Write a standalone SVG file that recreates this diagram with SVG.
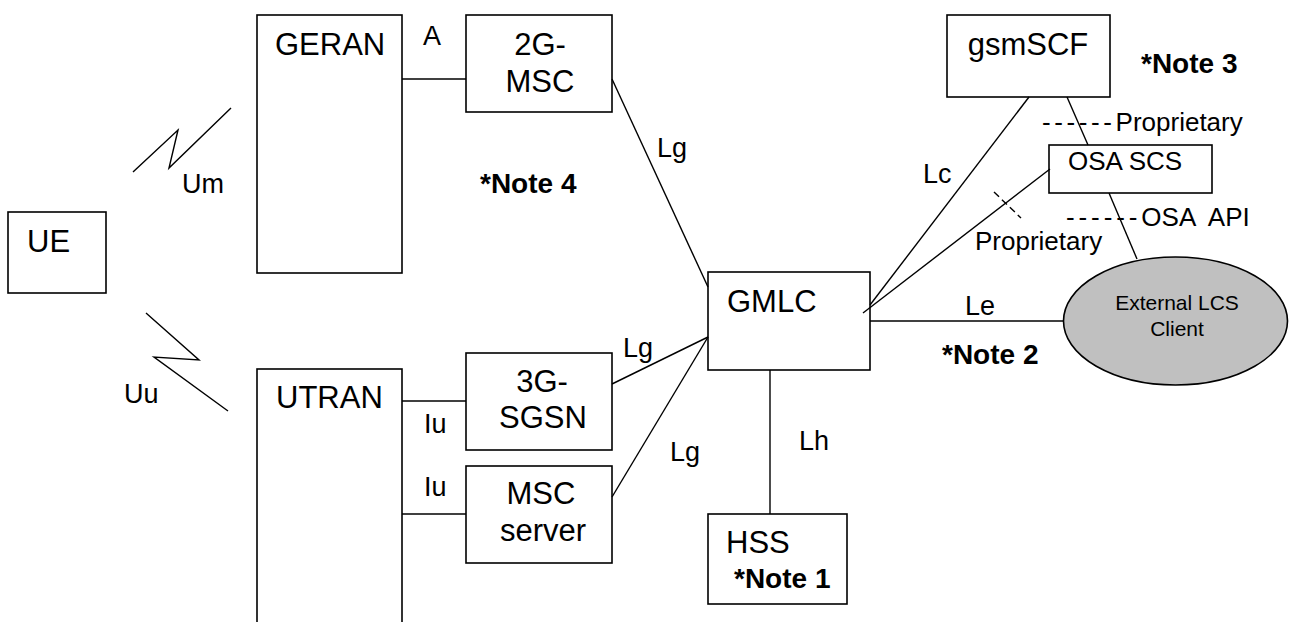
<svg xmlns="http://www.w3.org/2000/svg" width="1289" height="622" viewBox="0 0 1289 622">
<style>
text{font-family:"Liberation Sans",Arial,sans-serif;fill:#000}
.box{fill:#fff;stroke:#000;stroke-width:1.6}
.ln{fill:none;stroke:#000;stroke-width:1.4}
.dash{fill:none;stroke:#000;stroke-width:1.4;stroke-dasharray:7 4}
.nl{font-size:31px}
.il{font-size:27px}
.sl{font-size:26px}
.note{font-size:28px;font-weight:bold}
.ext{font-size:21px}
</style>
<rect x="0" y="0" width="1289" height="622" fill="#fff"/>
<g id="UE"><rect class="box" x="8" y="212" width="98" height="81"/><text class="nl" x="27" y="252">UE</text></g>
<g id="GERAN"><rect class="box" x="257" y="15" width="145" height="258"/><text class="nl" x="275" y="55">GERAN</text></g>
<g id="UTRAN"><rect class="box" x="257" y="369" width="145" height="270"/><text class="nl" x="276" y="408">UTRAN</text></g>
<g id="MSC2G"><rect class="box" x="466" y="15" width="146" height="97"/><text class="nl" text-anchor="middle" x="540" y="55">2G-</text><text class="nl" text-anchor="middle" x="540" y="92">MSC</text></g>
<g id="SGSN3G"><rect class="box" x="466" y="353" width="146" height="97"/><text class="nl" text-anchor="middle" x="542" y="392">3G-</text><text class="nl" text-anchor="middle" x="543" y="428">SGSN</text></g>
<g id="MSCserver"><rect class="box" x="466" y="466" width="146" height="97"/><text class="nl" text-anchor="middle" x="541" y="504">MSC</text><text class="nl" text-anchor="middle" x="543" y="541">server</text></g>
<g id="GMLC"><rect class="box" x="708" y="272" width="162" height="98"/><text class="nl" x="727" y="312">GMLC</text></g>
<g id="HSS"><rect class="box" x="708" y="514" width="139" height="90"/><text class="nl" x="726" y="553">HSS</text><text class="note" x="734" y="588">*Note 1</text></g>
<g id="gsmSCF"><rect class="box" x="947" y="15" width="163" height="82"/><text class="nl" text-anchor="middle" x="1028" y="55">gsmSCF</text></g>
<g id="OSASCS"><rect class="box" x="1049" y="145" width="163" height="48"/><text class="sl" x="1068" y="170">OSA SCS</text></g>
<g id="ExternalLCSClient"><ellipse cx="1175.5" cy="321" rx="112" ry="64" fill="#c0c0c0" stroke="#000" stroke-width="1.6"/><text class="ext" text-anchor="middle" x="1177" y="310">External LCS</text><text class="ext" text-anchor="middle" x="1177" y="336">Client</text></g>
<g id="connectors">
<polyline class="ln" points="133,172 178,130 169,168 231,108"/>
<polyline class="ln" points="146,313 199,360 154,357 228,411"/>
<line class="ln" x1="402" y1="79" x2="466" y2="79"/>
<line class="ln" x1="612" y1="79" x2="708" y2="287"/>
<line class="ln" x1="402" y1="401" x2="466" y2="401"/>
<line class="ln" x1="402" y1="514" x2="466" y2="514"/>
<line class="ln" x1="612" y1="384" x2="708" y2="337"/>
<line class="ln" x1="612" y1="497" x2="708" y2="337"/>
<line class="ln" x1="770" y1="370" x2="770" y2="514"/>
<line class="ln" x1="870" y1="321" x2="1063.5" y2="321"/>
<line class="ln" x1="1029" y1="97" x2="870" y2="305"/>
<line class="ln" x1="1050" y1="169" x2="863" y2="313"/>
<line class="ln" x1="1067" y1="97" x2="1088" y2="145"/>
<line class="ln" x1="1109" y1="193" x2="1137" y2="259"/>
<line class="dash" x1="994" y1="192" x2="1021" y2="218"/>
</g>
<g id="labels">
<text class="il" x="423" y="45">A</text>
<text class="il" x="182" y="193">Um</text>
<text class="il" x="124" y="403">Uu</text>
<text class="il" x="657" y="157">Lg</text>
<text class="il" x="623" y="357">Lg</text>
<text class="il" x="670" y="461">Lg</text>
<text class="il" x="424" y="433">Iu</text>
<text class="il" x="424" y="496">Iu</text>
<text class="il" x="799" y="450">Lh</text>
<text class="il" x="923" y="183">Lc</text>
<text class="il" x="965" y="315">Le</text>
<text class="sl" x="1042" y="131"><tspan letter-spacing="3.6">------</tspan>Proprietary</text>
<text class="sl" x="1066" y="226" xml:space="preserve"><tspan letter-spacing="3.9">------</tspan>OSA  API</text>
<text class="sl" x="975" y="250">Proprietary</text>
<text class="note" x="480" y="193">*Note 4</text>
<text class="note" x="1141" y="73">*Note 3</text>
<text class="note" x="942" y="364">*Note 2</text>
</g>
</svg>
